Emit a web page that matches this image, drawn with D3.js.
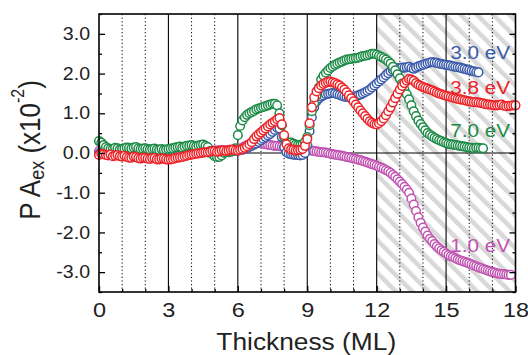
<!DOCTYPE html>
<html>
<head>
<meta charset="utf-8">
<script src="https://cdn.jsdelivr.net/npm/d3@7"></script>
<style>
  body { margin: 0; background: #fff; }
  text { font-family: "Liberation Sans", Arial, sans-serif; }
</style>
</head>
<body>
<div id="chart"></div>
<script>
// Thickness grid (ML), one reading every 0.1 ML
const step = 0.1;

// PA_ex values (x10^-2), one row per ML
const pa30 = [
  -0.02, 0.00, 0.00, -0.02, -0.03, -0.01, -0.02, -0.03, -0.04, -0.02,
  -0.03, -0.04, -0.05, -0.03, -0.04, -0.05, -0.06, -0.04, -0.05, -0.06,
  -0.06, -0.05, -0.07, -0.06, -0.06, -0.08, -0.08, -0.07, -0.07, -0.08,
  -0.08, -0.07, -0.07, -0.06, -0.06, -0.05, -0.05, -0.04, -0.03, -0.02,
  -0.02, -0.01, 0.00, 0.00, 0.01, 0.02, 0.02, 0.02, 0.03, 0.03,
  0.03, 0.04, 0.04, 0.04, 0.05, 0.05, 0.05, 0.05, 0.06, 0.06,
  0.06, 0.07, 0.08, 0.10, 0.12, 0.15, 0.18, 0.21, 0.24, 0.28,
  0.32, 0.36, 0.40, 0.44, 0.48, 0.53, 0.58, 0.63, 0.62, 0.40,
  0.15, 0.02, -0.02, -0.03, -0.04, -0.05, -0.05, -0.06, -0.05, 0.00,
  0.20, 0.55, 0.90, 1.15, 1.30, 1.37, 1.42, 1.45, 1.48, 1.49,
  1.50, 1.51, 1.50, 1.48, 1.46, 1.44, 1.42, 1.41, 1.40, 1.41,
  1.42, 1.43, 1.45, 1.47, 1.50, 1.53, 1.56, 1.60, 1.65, 1.70,
  1.75, 1.80, 1.85, 1.90, 1.96, 2.01, 2.06, 2.09, 2.12, 2.13,
  2.14, 2.15, 2.15, 2.16, 2.17, 2.14, 2.12, 2.15, 2.18, 2.20,
  2.22, 2.24, 2.26, 2.28, 2.29, 2.28, 2.27, 2.25, 2.24, 2.23,
  2.22, 2.21, 2.20, 2.18, 2.17, 2.16, 2.15, 2.13, 2.12, 2.10,
  2.09, 2.07, 2.06, 2.04, 2.03];

const pa38 = [
  -0.05, -0.02, -0.03, -0.05, -0.06, -0.04, -0.08, -0.07, -0.05, -0.08,
  -0.09, -0.07, -0.10, -0.12, -0.12, -0.09, -0.10, -0.13, -0.14, -0.12,
  -0.12, -0.14, -0.15, -0.13, -0.13, -0.16, -0.16, -0.14, -0.14, -0.16,
  -0.17, -0.16, -0.15, -0.13, -0.12, -0.11, -0.10, -0.08, -0.07, -0.05,
  -0.04, -0.03, -0.02, -0.01, 0.00, 0.01, 0.02, 0.02, 0.03, 0.05,
  0.05, 0.03, 0.04, 0.06, 0.07, 0.05, 0.06, 0.08, 0.09, 0.07,
  0.06, 0.08, 0.10, 0.13, 0.17, 0.22, 0.27, 0.35, 0.42, 0.47,
  0.52, 0.57, 0.62, 0.67, 0.72, 0.76, 0.80, 0.85, 0.88, 0.72,
  0.45, 0.22, 0.12, 0.09, 0.08, 0.06, 0.07, 0.08, 0.10, 0.18,
  0.35, 0.75, 1.15, 1.40, 1.55, 1.63, 1.70, 1.74, 1.77, 1.79,
  1.80, 1.78, 1.76, 1.73, 1.70, 1.65, 1.60, 1.53, 1.45, 1.38,
  1.30, 1.22, 1.15, 1.07, 1.00, 0.93, 0.86, 0.80, 0.76, 0.73,
  0.72, 0.75, 0.80, 0.87, 0.95, 1.05, 1.15, 1.27, 1.38, 1.49,
  1.60, 1.69, 1.76, 1.82, 1.86, 1.85, 1.82, 1.76, 1.72, 1.69,
  1.66, 1.64, 1.62, 1.60, 1.58, 1.55, 1.52, 1.50, 1.48, 1.46,
  1.44, 1.43, 1.41, 1.39, 1.38, 1.36, 1.35, 1.34, 1.33, 1.31,
  1.30, 1.29, 1.28, 1.28, 1.27, 1.26, 1.25, 1.23, 1.22, 1.22,
  1.21, 1.20, 1.20, 1.21, 1.22, 1.19, 1.18, 1.19, 1.19, 1.20,
  1.20];

const pa70 = [
  0.30, 0.26, 0.20, 0.15, 0.12, 0.10, 0.10, 0.13, 0.12, 0.09,
  0.10, 0.12, 0.14, 0.13, 0.12, 0.14, 0.15, 0.12, 0.10, 0.11,
  0.12, 0.10, 0.09, 0.10, 0.11, 0.09, 0.08, 0.10, 0.08, 0.09,
  0.10, 0.11, 0.12, 0.14, 0.15, 0.16, 0.14, 0.16, 0.18, 0.19,
  0.20, 0.18, 0.17, 0.19, 0.20, 0.21, 0.18, 0.15, 0.05, -0.03,
  -0.08, -0.10, -0.10, -0.06, 0.00, 0.02, 0.02, 0.03, 0.05, 0.12,
  0.45, 0.68, 0.82, 0.90, 0.96, 1.00, 1.03, 1.06, 1.10, 1.12,
  1.14, 1.16, 1.18, 1.20, 1.22, 1.24, 1.24, 1.20, 1.00, 0.70,
  0.40, 0.28, 0.25, 0.26, 0.24, 0.21, 0.20, 0.20, 0.22, 0.28,
  0.40, 0.70, 1.05, 1.25, 1.45, 1.65, 1.85, 1.95, 2.02, 2.08,
  2.14, 2.18, 2.22, 2.25, 2.28, 2.30, 2.33, 2.35, 2.36, 2.37,
  2.38, 2.39, 2.40, 2.42, 2.44, 2.45, 2.46, 2.48, 2.50, 2.50,
  2.48, 2.45, 2.42, 2.39, 2.35, 2.30, 2.25, 2.17, 2.08, 1.98,
  1.88, 1.75, 1.60, 1.48, 1.35, 1.20, 1.05, 0.93, 0.82, 0.73,
  0.65, 0.57, 0.50, 0.46, 0.42, 0.38, 0.35, 0.32, 0.30, 0.27,
  0.25, 0.23, 0.22, 0.21, 0.20, 0.19, 0.18, 0.17, 0.16, 0.15,
  0.14, 0.13, 0.12, 0.13, 0.13, 0.12, 0.12];

const pa10 = [
  0.05, 0.05, 0.06, 0.05, 0.04, 0.05, 0.05, 0.06, 0.06, 0.05,
  0.05, 0.04, 0.04, 0.05, 0.06, 0.05, 0.05, 0.06, 0.07, 0.06,
  0.06, 0.05, 0.05, 0.06, 0.07, 0.08, 0.08, 0.07, 0.06, 0.05,
  0.05, 0.05, 0.04, 0.04, 0.03, 0.03, 0.04, 0.04, 0.03, 0.03,
  0.04, 0.04, 0.05, 0.05, 0.04, 0.05, 0.05, 0.06, 0.06, 0.06,
  0.06, 0.06, 0.07, 0.07, 0.06, 0.06, 0.08, 0.08, 0.07, 0.08,
  0.08, 0.10, 0.14, 0.17, 0.20, 0.22, 0.23, 0.24, 0.25, 0.25,
  0.24, 0.23, 0.22, 0.21, 0.20, 0.19, 0.18, 0.18, 0.17, 0.16,
  0.15, 0.15, 0.14, 0.14, 0.13, 0.13, 0.12, 0.11, 0.10, 0.09,
  0.08, 0.07, 0.06, 0.05, 0.04, 0.03, 0.02, 0.02, 0.01, 0.00,
  -0.02, -0.03, -0.04, -0.05, -0.06, -0.07, -0.08, -0.10, -0.11, -0.12,
  -0.14, -0.15, -0.17, -0.18, -0.20, -0.22, -0.24, -0.26, -0.28, -0.30,
  -0.32, -0.35, -0.37, -0.40, -0.43, -0.46, -0.50, -0.55, -0.60, -0.66,
  -0.72, -0.78, -0.85, -0.92, -1.00, -1.15, -1.30, -1.46, -1.62, -1.76,
  -1.88, -1.98, -2.08, -2.16, -2.22, -2.29, -2.35, -2.40, -2.45, -2.49,
  -2.53, -2.57, -2.60, -2.62, -2.65, -2.68, -2.70, -2.72, -2.74, -2.76,
  -2.78, -2.80, -2.83, -2.85, -2.88, -2.90, -2.92, -2.94, -2.96, -2.98,
  -3.00, -3.01, -3.03, -3.04, -3.05, -3.05, -3.06, -3.07, -3.07];

const seriesLabels = ['1.0 eV', '3.0 eV', '7.0 eV', '3.8 eV'];
const seriesValues = [pa10, pa30, pa70, pa38];
const seriesColors = ['#bf52b0', '#3a5ba9', '#1d8b47', '#ec2227'];

const xMajor = [0, 3, 6, 9, 12, 15, 18];
const yMajor = [-3, -2, -1, 0, 1, 2, 3];
const hatchStart = 12;

// Layout
const W = 528, H = 355;
const margin = { top: 14, right: 12.5, bottom: 63, left: 99 };
const width = W - margin.left - margin.right;
const height = H - margin.top - margin.bottom;
const stretch = 1.12; // the original lettering is a bit wide

const svg = d3.select('#chart')
  .append('svg')
  .attr('width', W)
  .attr('height', H);

const x = d3.scaleLinear().domain([0, 18]).range([0, width]);
const y = d3.scaleLinear().domain([-3.5, 3.5]).range([height, 0]);

// Hatch pattern for the 12-18 ML region
const defs = svg.append('defs');
const pat = defs.append('pattern')
  .attr('id', 'hatch')
  .attr('patternUnits', 'userSpaceOnUse')
  .attr('width', 11.5)
  .attr('height', 11.5)
  .attr('patternTransform', 'rotate(-45)');
pat.append('rect').attr('width', 11.5).attr('height', 11.5).attr('fill', '#fff');
pat.append('rect').attr('x', 0).attr('y', 0).attr('width', 4.5).attr('height', 11.5).attr('fill', '#d8d8d8');

const g = svg.append('g')
  .attr('transform', `translate(${margin.left},${margin.top})`);

g.append('rect')
  .attr('x', x(hatchStart))
  .attr('y', 0)
  .attr('width', x(18) - x(hatchStart))
  .attr('height', height)
  .attr('fill', 'url(#hatch)');

// Vertical grid: solid at every 3 ML, dotted in between
const gridX = d3.range(1, 18);
g.selectAll('.vgrid')
  .data(gridX)
  .enter()
  .append('line')
  .attr('class', 'vgrid')
  .attr('x1', d => x(d))
  .attr('x2', d => x(d))
  .attr('y1', 0)
  .attr('y2', height)
  .attr('stroke', '#000')
  .attr('stroke-width', d => d % 3 === 0 ? 1.1 : 1)
  .attr('stroke-dasharray', d => d % 3 === 0 ? null : '1.2,2.4');

// Zero line
g.append('line')
  .attr('x1', 0)
  .attr('x2', width)
  .attr('y1', y(0))
  .attr('y2', y(0))
  .attr('stroke', '#000')
  .attr('stroke-width', 1.1);

// Data points
seriesValues.forEach((vals, i) => {
  g.append('g')
    .selectAll('circle')
    .data(vals)
    .enter()
    .append('circle')
    .attr('cx', (d, j) => x(j * step))
    .attr('cy', d => y(d))
    .attr('r', 4.3)
    .attr('fill', '#fff')
    .attr('stroke', seriesColors[i])
    .attr('stroke-width', 1.5);
});

// Axes (ticks point inward)
const fmt = d => d.toFixed(1);
const yMinor = d3.range(-3.5, 3.51, 0.5).filter(d => !yMajor.includes(d));
const xMinor = d3.range(0, 19).filter(d => !xMajor.includes(d));

const yAxis = g.append('g')
  .call(d3.axisLeft(y).tickValues(yMajor).tickFormat(fmt).tickSizeInner(-6).tickSizeOuter(0).tickPadding(8));
g.append('g')
  .call(d3.axisLeft(y).tickValues(yMinor).tickFormat('').tickSizeInner(-3).tickSizeOuter(0));
g.append('g')
  .attr('transform', `translate(${width},0)`)
  .call(d3.axisRight(y).tickValues(yMajor).tickFormat('').tickSizeInner(-6).tickSizeOuter(0));
g.append('g')
  .attr('transform', `translate(${width},0)`)
  .call(d3.axisRight(y).tickValues(yMinor).tickFormat('').tickSizeInner(-3).tickSizeOuter(0));

const xAxis = g.append('g')
  .attr('transform', `translate(0,${height})`)
  .call(d3.axisBottom(x).tickValues(xMajor).tickFormat(d3.format('d')).tickSizeInner(-6).tickSizeOuter(0).tickPadding(10));
g.append('g')
  .attr('transform', `translate(0,${height})`)
  .call(d3.axisBottom(x).tickValues(xMinor).tickFormat('').tickSizeInner(-3).tickSizeOuter(0));

g.selectAll('.domain').remove();
g.selectAll('.tick line').attr('stroke', '#000').attr('stroke-width', 1.3);

yAxis.selectAll('text')
  .attr('font-family', '"Liberation Sans", Arial, sans-serif')
  .attr('font-size', 17.5)
  .attr('fill', '#222')
  .attr('transform', `scale(${stretch},1)`);

xAxis.selectAll('text')
  .attr('font-family', '"Liberation Sans", Arial, sans-serif')
  .attr('font-size', 21)
  .attr('fill', '#222')
  .attr('transform', `scale(${stretch},1)`);

// Frame
g.append('rect')
  .attr('width', width)
  .attr('height', height)
  .attr('fill', 'none')
  .attr('stroke', '#000')
  .attr('stroke-width', 1.6);

// Series labels
const labelPos = { '3.0 eV': 59, '3.8 eV': 94, '7.0 eV': 137, '1.0 eV': 252 };
seriesLabels.forEach((lab, i) => {
  svg.append('text')
    .attr('transform', `translate(510,${labelPos[lab]}) scale(${stretch},1)`)
    .attr('text-anchor', 'end')
    .attr('font-size', 18.5)
    .attr('fill', seriesColors[i])
    .text(lab);
});

// Axis titles
svg.append('text')
  .attr('transform', `translate(${margin.left + width / 2 - 1},350) scale(${stretch},1)`)
  .attr('text-anchor', 'middle')
  .attr('font-size', 23.5)
  .attr('fill', '#222')
  .text('Thickness (ML)');

const yt = svg.append('text')
  .attr('transform', `translate(40,150) rotate(-90) scale(1,${stretch})`)
  .attr('text-anchor', 'middle')
  .attr('font-size', 26)
  .attr('fill', '#222');
yt.append('tspan').text('P A');
yt.append('tspan').attr('font-size', 18).attr('dy', 4).text('ex');
yt.append('tspan').attr('dy', -4).text(' (x10');
yt.append('tspan').attr('font-size', 16).attr('dy', -14).text('-2');
yt.append('tspan').attr('dy', 14).text(')');
</script>
</body>
</html>
